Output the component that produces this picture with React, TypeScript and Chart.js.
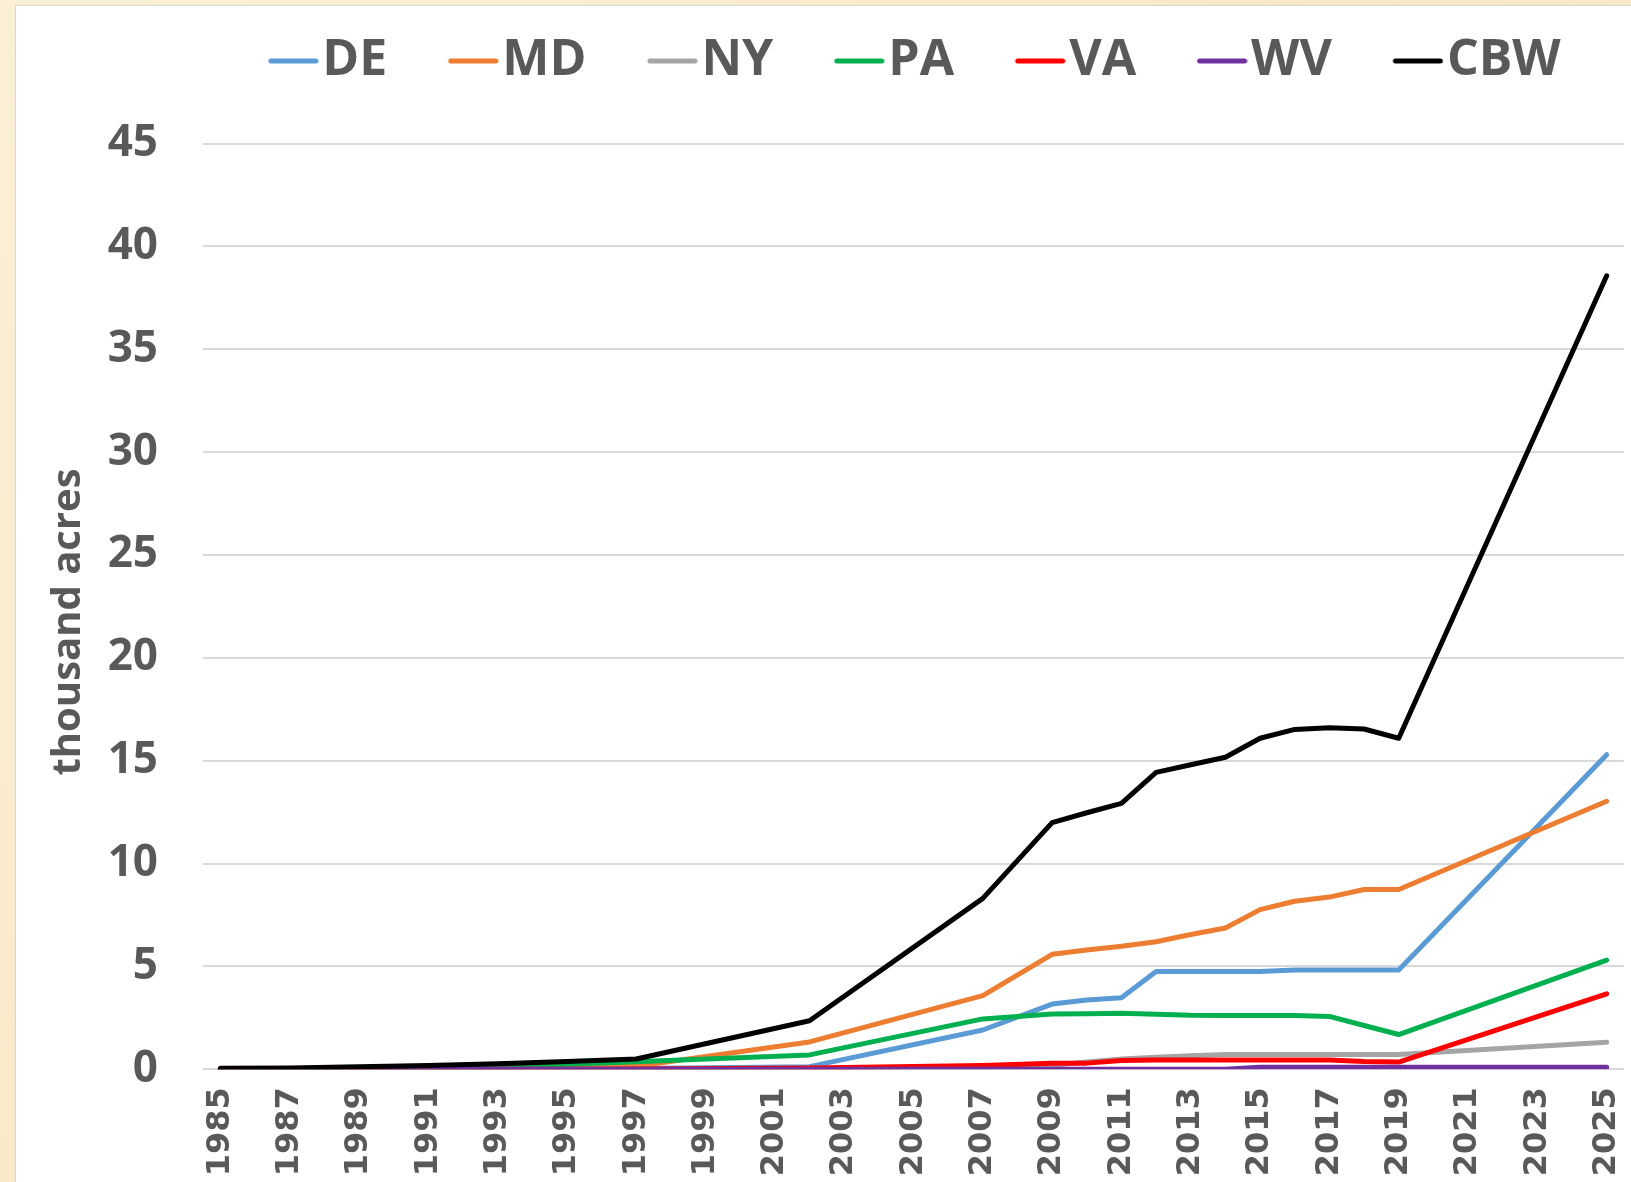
import React, { useEffect, useRef } from 'react';
import { Chart, registerables } from 'chart.js';

Chart.register(...registerables);

// ---- data ----
const years = [1985, 1987, 1989, 1991, 1993, 1995, 1997, 2002, 2007, 2009, 2010, 2011, 2012, 2013, 2014, 2015, 2016, 2017, 2018, 2019, 2025];
const seriesLabels = ['DE', 'MD', 'NY', 'PA', 'VA', 'WV', 'CBW'];
const deValues = [0, 0, 0, 0, 0, 0.02, 0.04, 0.13, 1.91, 3.17, 3.37, 3.48, 4.75, 4.75, 4.75, 4.75, 4.83, 4.83, 4.83, 4.83, 15.29];
const mdValues = [0, 0.02, 0.04, 0.06, 0.08, 0.1, 0.15, 1.33, 3.58, 5.59, 5.8, 5.98, 6.2, 6.55, 6.87, 7.76, 8.17, 8.37, 8.74, 8.74, 13.03];
const nyValues = [0, 0, 0, 0, 0, 0, 0, 0.02, 0.1, 0.2, 0.35, 0.5, 0.58, 0.66, 0.72, 0.72, 0.72, 0.72, 0.72, 0.72, 1.32];
const paValues = [0, 0.02, 0.06, 0.1, 0.16, 0.25, 0.37, 0.7, 2.45, 2.69, 2.7, 2.72, 2.68, 2.63, 2.62, 2.62, 2.62, 2.57, 2.13, 1.69, 5.31];
const vaValues = [0, 0, 0, 0, 0, 0, 0.02, 0.06, 0.18, 0.3, 0.3, 0.43, 0.45, 0.45, 0.45, 0.45, 0.45, 0.45, 0.38, 0.35, 3.67];
const wvValues = [0, 0, 0, 0, 0, 0, 0, 0, 0, 0, 0, 0, 0, 0, 0, 0.1, 0.1, 0.1, 0.1, 0.1, 0.1];
const cbwValues = [0.05, 0.06, 0.12, 0.18, 0.27, 0.38, 0.5, 2.36, 8.31, 11.99, 12.47, 12.93, 14.43, 14.8, 15.17, 16.09, 16.52, 16.6, 16.54, 16.09, 38.57];
const seriesColors = ['#5b9bd5', '#ed7d31', '#a5a5a5', '#00b050', '#ff0000', '#7030a0', '#000000'];
const xTickYears = [1985, 1987, 1989, 1991, 1993, 1995, 1997, 1999, 2001, 2003, 2005, 2007, 2009, 2011, 2013, 2015, 2017, 2019, 2021, 2023, 2025];
const yTickValues = [0, 5, 10, 15, 20, 25, 30, 35, 40, 45];
const yAxisTitle = 'thousand acres';

// ---- styling constants ----
const TEXT_COLOR = '#595959';
const LEGEND_FONT = 50;
const LEGEND_BOX = 57;
const LEGEND_PAD = 7;
const SWATCH_W = 100;
const SWATCH_H = 8;

function makeSwatch(color: string): HTMLCanvasElement {
  const c = document.createElement('canvas');
  c.width = SWATCH_W;
  c.height = SWATCH_H;
  const g = c.getContext('2d');
  if (g) {
    g.strokeStyle = color;
    g.lineWidth = 5;
    g.lineCap = 'round';
    g.beginPath();
    g.moveTo(52, SWATCH_H / 2);
    g.lineTo(97, SWATCH_H / 2);
    g.stroke();
  }
  return c;
}

export default function App() {
  const ref = useRef<HTMLCanvasElement>(null);

  useEffect(() => {
    const canvas = ref.current;
    if (!canvas) return;
    const valuesList = [deValues, mdValues, nyValues, paValues, vaValues, wvValues, cbwValues];
    const datasets = seriesLabels.map((label, i) => ({
      label,
      data: years.map((yr, j) => ({ x: yr, y: valuesList[i][j] })),
      borderColor: seriesColors[i],
      backgroundColor: seriesColors[i],
      borderWidth: 5,
      borderCapStyle: 'round' as const,
      borderJoinStyle: 'round' as const,
      pointRadius: 0,
      pointHoverRadius: 0,
      pointStyle: makeSwatch(seriesColors[i]),
      tension: 0,
      order: seriesLabels.length - i,
    }));

    const baseGenerate = (Chart.defaults as any).plugins.legend.labels.generateLabels;

    const chart = new Chart(canvas, {
      type: 'line',
      data: { datasets },
      options: {
        animation: false,
        responsive: false,
        devicePixelRatio: 1,
        events: [],
        layout: { padding: { left: 10, right: 42, top: 23, bottom: 0 } },
        plugins: {
          tooltip: { enabled: false },
          legend: {
            display: true,
            position: 'top',
            fullSize: false,
            labels: {
              usePointStyle: true,
              pointStyleWidth: LEGEND_BOX,
              boxWidth: LEGEND_BOX,
              padding: LEGEND_PAD,
              color: TEXT_COLOR,
              font: { family: 'Open Sans', size: LEGEND_FONT, weight: 'bold' },
              generateLabels: (ch: any) =>
                baseGenerate(ch).map((item: any) => ({ ...item, text: item.text + '  ' })),
              sort: (a: any, b: any) => a.datasetIndex - b.datasetIndex,
            },
          },
          title: {
            display: true,
            text: ' ',
            position: 'top',
            weight: 500,
            font: { size: 10, lineHeight: 1 },
            padding: { top: 0, bottom: 37.5 },
          },
        },
        scales: {
          x: {
            type: 'linear',
            min: 1984.5,
            max: 2025.5,
            grid: { display: false, drawTicks: false },
            border: { display: false },
            afterBuildTicks: (axis: any) => {
              axis.ticks = xTickYears.map((v) => ({ value: v }));
            },
            afterFit: (axis: any) => {
              axis.height = 112.7;
            },
            ticks: {
              autoSkip: false,
              minRotation: 90,
              maxRotation: 90,
              padding: 18,
              color: TEXT_COLOR,
              font: { family: 'DejaVu Sans', size: 32, weight: 'bold' },
              callback: (v: any) => String(v),
            },
          },
          y: {
            type: 'linear',
            min: 0,
            max: 45,
            afterBuildTicks: (axis: any) => {
              axis.ticks = yTickValues.map((v) => ({ value: v }));
            },
            afterFit: (axis: any) => {
              axis.width = 177;
            },
            grid: { color: '#d9d9d9', lineWidth: 2, drawTicks: false },
            border: { display: false },
            ticks: {
              padding: 45,
              color: TEXT_COLOR,
              font: { family: 'Open Sans', size: 44, weight: 'bold' },
              callback: (v: any) => String(v),
            },
            title: {
              display: true,
              text: yAxisTitle + '   ',
              color: TEXT_COLOR,
              font: { family: 'Open Sans', size: 40, weight: 'bold', lineHeight: 1.2 },
              padding: { top: 18.5, bottom: 10 },
            },
          },
        },
      },
    } as any);

    return () => chart.destroy();
  }, []);

  return (
    <div
      style={{
        position: 'fixed',
        left: 0,
        top: 0,
        width: 1631,
        height: 1182,
        overflow: 'hidden',
        background: 'linear-gradient(135deg, #fbefd6 0%, #f8e8c6 50%, #fbefd6 100%)',
      }}
    >
      <div
        style={{
          position: 'absolute',
          left: 15,
          top: 5,
          width: 1700,
          height: 1250,
          background: '#ffffff',
          borderLeft: '1px solid #d6d6d6',
          borderTop: '1px solid #d6d6d6',
        }}
      >
        <canvas ref={ref} width={1650} height={1176} style={{ display: 'block', width: 1650, height: 1176 }} />
      </div>
    </div>
  );
}
